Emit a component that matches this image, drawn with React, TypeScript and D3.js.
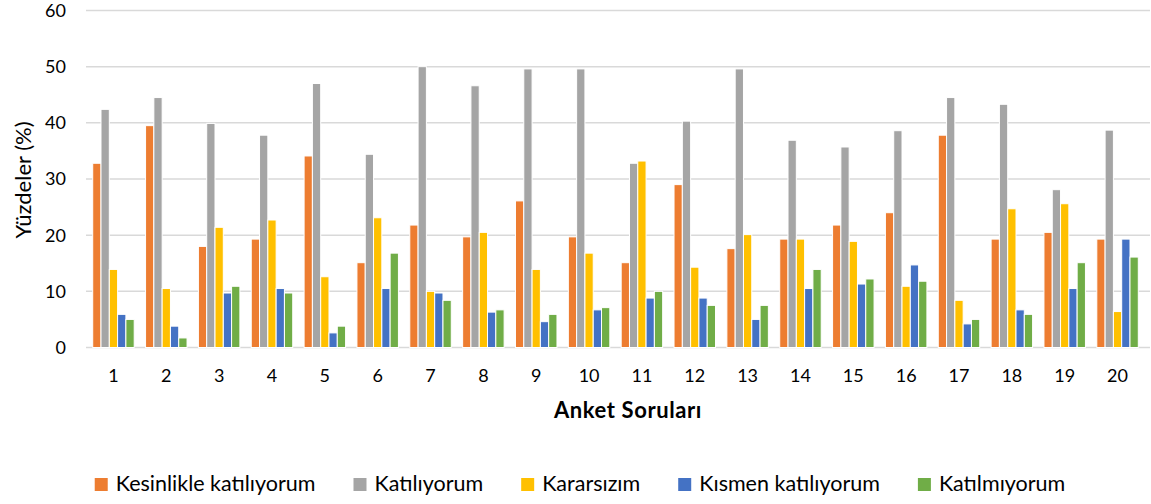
import React, { useEffect, useRef } from "react";
import * as d3 from "d3";

// survey questions 1..20
const questions = ["1", "2", "3", "4", "5", "6", "7", "8", "9", "10", "11", "12", "13", "14", "15", "16", "17", "18", "19", "20"];

const seriesNames = ["Kesinlikle katılıyorum", "Katılıyorum", "Kararsızım", "Kısmen katılıyorum", "Katılmıyorum"];
const seriesColors = ["#ED7D31", "#A5A5A5", "#FFC000", "#4472C4", "#70AD47"];

// values (%)
const kesinlikle = [32.8, 39.5, 18.0, 19.3, 34.1, 15.1, 21.8, 19.7, 26.1, 19.7, 15.1, 29.0, 17.6, 19.3, 21.8, 24.0, 37.8, 19.3, 20.5, 19.3];
const katiliyorum = [42.4, 44.5, 39.9, 37.8, 47.0, 34.4, 50.0, 46.6, 49.6, 49.6, 32.8, 40.3, 49.6, 36.9, 35.7, 38.6, 44.5, 43.3, 28.1, 38.7];
const kararsizim = [13.9, 10.5, 21.4, 22.7, 12.6, 23.1, 10.0, 20.5, 13.9, 16.8, 33.2, 14.3, 20.1, 19.3, 18.9, 10.9, 8.4, 24.7, 25.6, 6.4];
const kismen = [5.9, 3.8, 9.7, 10.5, 2.6, 10.5, 9.7, 6.3, 4.6, 6.7, 8.8, 8.8, 5.0, 10.5, 11.3, 14.7, 4.2, 6.7, 10.5, 19.3];
const katilmiyorum = [5.0, 1.7, 10.9, 9.7, 3.8, 16.8, 8.4, 6.7, 5.9, 7.1, 10.0, 7.5, 7.5, 13.9, 12.2, 11.8, 5.0, 5.9, 15.1, 16.1];

const yTicks = [0, 10, 20, 30, 40, 50, 60];

const FONT = "Lato, 'Open Sans', sans-serif";

export default function App() {
  const ref = useRef(null);

  useEffect(() => {
    const W = 1151;
    const H = 504;
    const margin = { top: 10, right: 6, bottom: 156, left: 87 };
    const seriesData = [kesinlikle, katiliyorum, kararsizim, kismen, katilmiyorum];

    const svg = d3.select(ref.current);
    svg.selectAll("*").remove();

    const x = d3
      .scaleBand()
      .domain(questions)
      .range([margin.left, W - margin.right - 1])
      .paddingInner(0.215)
      .paddingOuter(0.108);

    const xInner = d3
      .scaleBand()
      .domain(seriesNames)
      .range([0, x.bandwidth()]);

    const y = d3
      .scaleLinear()
      .domain([0, 60])
      .range([H - margin.bottom - 0.5, margin.top + 0.5]);

    // gridlines
    svg
      .append("g")
      .selectAll("line")
      .data(yTicks)
      .join("line")
      .attr("x1", margin.left - 1)
      .attr("x2", W - 1)
      .attr("y1", d => y(d))
      .attr("y2", d => y(d))
      .attr("stroke", "#d9d9d9")
      .attr("stroke-width", 1.5);

    // y tick labels
    svg
      .append("g")
      .selectAll("text")
      .data(yTicks)
      .join("text")
      .attr("x", 66)
      .attr("y", d => y(d))
      .attr("dy", "0.36em")
      .attr("text-anchor", "end")
      .attr("font-family", FONT)
      .attr("font-size", 18)
      .attr("fill", "#000")
      .text(d => d);

    // bars
    const groups = svg
      .append("g")
      .selectAll("g")
      .data(questions)
      .join("g")
      .attr("transform", d => `translate(${x(d)},0)`);

    groups
      .selectAll("rect")
      .data((q, i) => seriesData.map((s, k) => ({ name: seriesNames[k], color: seriesColors[k], value: s[i] })))
      .join("rect")
      .attr("x", d => xInner(d.name))
      .attr("y", d => y(d.value))
      .attr("width", xInner.bandwidth())
      .attr("height", d => y(0) - y(d.value))
      .attr("fill", d => d.color)
      .attr("stroke", "#fff")
      .attr("stroke-width", 1);

    // x tick labels
    svg
      .append("g")
      .selectAll("text")
      .data(questions)
      .join("text")
      .attr("x", d => x(d) + x.bandwidth() / 2)
      .attr("y", 382)
      .attr("text-anchor", "middle")
      .attr("font-family", FONT)
      .attr("font-size", 18)
      .attr("fill", "#000")
      .text(d => d);

    // axis titles
    svg
      .append("text")
      .attr("x", 628)
      .attr("y", 418)
      .attr("text-anchor", "middle")
      .attr("font-family", FONT)
      .attr("font-size", 22)
      .attr("font-weight", "bold")
      .attr("letter-spacing", 0.6)
      .text("Anket Soruları");

    svg
      .append("text")
      .attr("transform", "translate(23,180) rotate(-90)")
      .attr("dy", "0.35em")
      .attr("text-anchor", "middle")
      .attr("font-family", FONT)
      .attr("font-size", 22)
      .text("Yüzdeler (%)");

    // legend
    const legend = svg.append("g");
    const items = legend
      .selectAll("g")
      .data(seriesNames)
      .join("g");
    items
      .append("rect")
      .attr("width", 13)
      .attr("height", 13)
      .attr("y", -13)
      .attr("fill", (d, i) => seriesColors[i]);
    items
      .append("text")
      .attr("x", 21)
      .attr("y", 0)
      .attr("font-family", FONT)
      .attr("font-size", 21.5)
      .text(d => d);

    let cx = 0;
    const gap = 38;
    items.each(function () {
      const w = 21 + this.querySelector("text").getComputedTextLength();
      d3.select(this).attr("transform", `translate(${cx},491)`);
      cx += w + gap;
    });
    const total = cx - gap;
    legend.attr("transform", `translate(${580 - total / 2},0)`);
  }, []);

  return (
    <svg
      ref={ref}
      width={1151}
      height={504}
      style={{ position: "absolute", left: 0, top: 0, background: "#fff" }}
    />
  );
}
